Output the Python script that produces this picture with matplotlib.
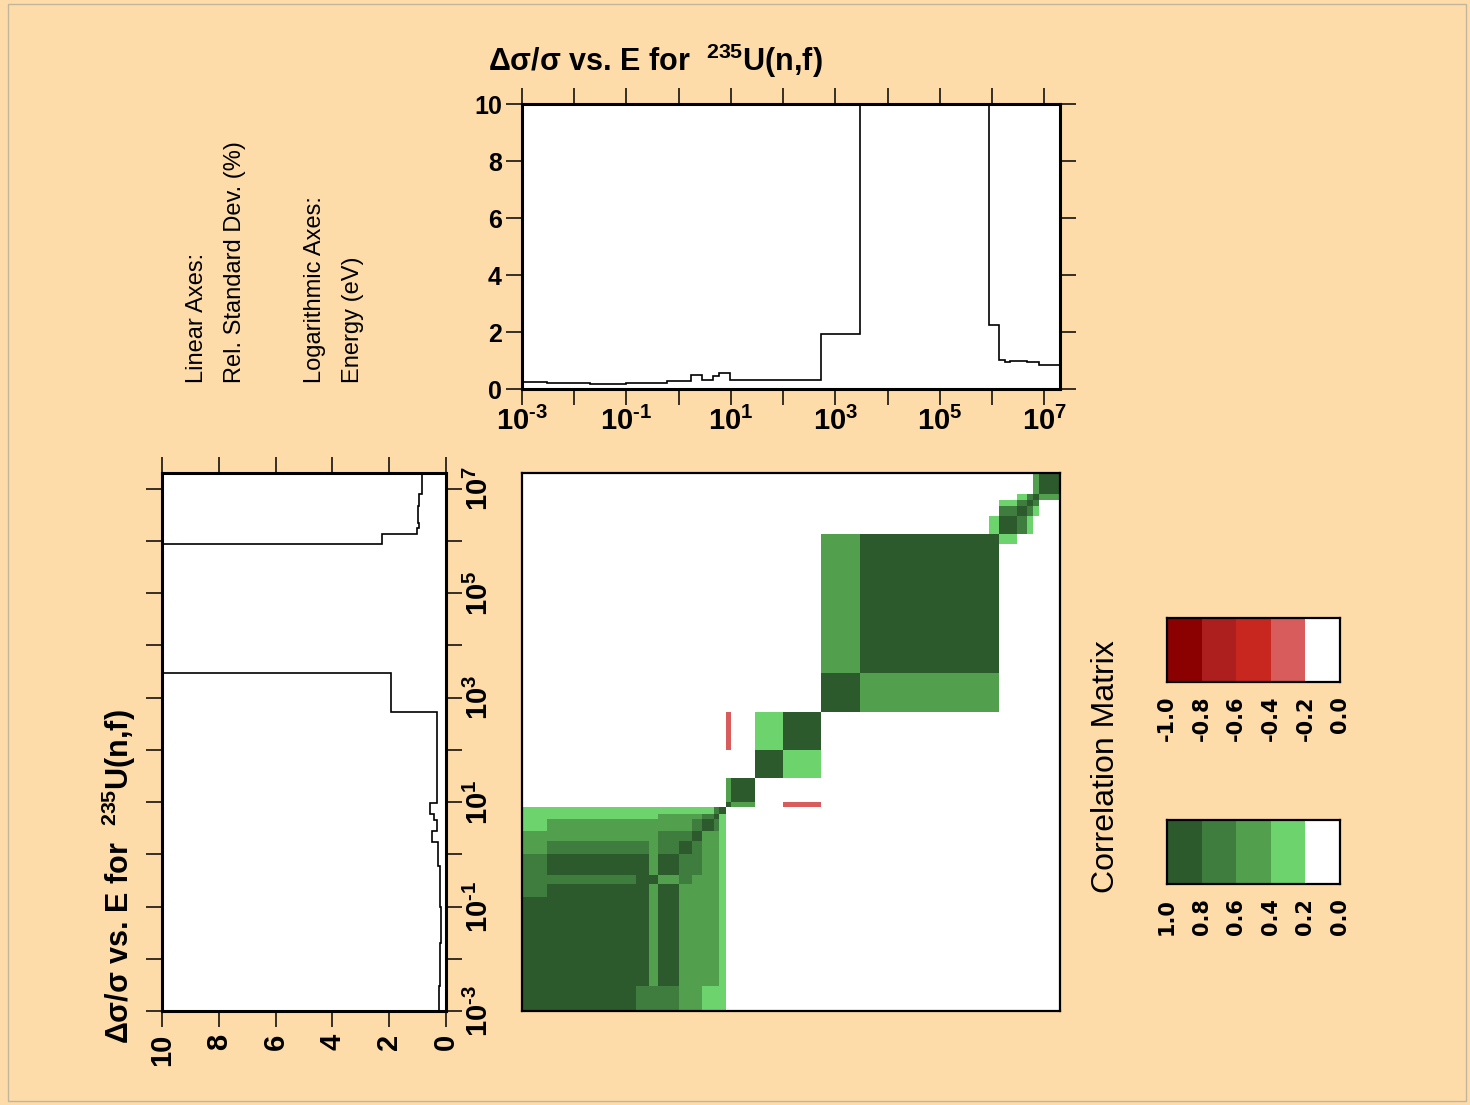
import numpy as np
import matplotlib
matplotlib.use("Agg")
import matplotlib.pyplot as plt
from matplotlib.colors import ListedColormap, BoundaryNorm
from matplotlib.ticker import NullLocator
from matplotlib.patches import Rectangle

# ---------------- data ----------------
# relative standard deviation (%) per energy group (eV)
unc_edges = [1e-3, 3e-3, 0.02, 0.1, 0.3, 0.6, 1.75, 2.8, 4.6, 5.9, 9.6, 520.0,
             2950.0, 8.6e5, 1.34e6, 1.8e6, 2.2e6, 2.6e6, 4.6e6, 7.8e6, 2e7]
unc_values = [0.23, 0.21, 0.19, 0.20, 0.22, 0.27, 0.49, 0.33, 0.44, 0.56, 0.30,
              1.94, 12.0, 2.25, 1.02, 0.95, 1.00, 1.00, 0.95, 0.84]

# correlation matrix groups (eV)
corr_edges = [1e-3, 3e-3, 0.026, 0.15, 0.27, 0.4, 1.0, 1.8, 2.8, 4.7, 5.9, 8.0,
              10.0, 29.0, 100.0, 520.0, 2.9e3, 8.6e5, 1.35e6, 3.0e6, 4.6e6,
              6.0e6, 7.8e6, 2.0e7]
corr_levels = {"D": 0.9, "M": 0.7, "L": 0.5, "S": 0.3, "N": -0.3, "0": 0.0}
corr_rows = [
    "DDDMMMLLSSS" + "000000000000",
    "DDDDLDLLLLS" + "000000000000",
    "DDDDLDLLLLS" + "000000000000",
    "MDDDLDLLLLS" + "000000000000",
    "MMMDDLMLLLS" + "000000000000",
    "MDDDLDMMLLS" + "000000000000",
    "LMMMLMDMLLS" + "000000000000",
    "LLLLLMMDLLS" + "000000000000",
    "SLLLLLLMDMS" + "000000000000",
    "SSSSSLLLMDS" + "000000000000",
    "SSSSSSSSSMD" + "000000000000",
    "00000000000" + "DL0N00000000",
    "00000000000" + "LD0000000000",
    "00000000000" + "00DS00000000",
    "00000000000" + "N0SD00000000",
    "00000000000" + "0000DLL00000",
    "00000000000" + "0000LDD00000",
    "00000000000" + "0000LDDS0000",
    "00000000000" + "000000SDMS00",
    "00000000000" + "0000000MDMS0",
    "00000000000" + "0000000SMDM0",
    "00000000000" + "00000000SMDL",
    "00000000000" + "0000000000LD",
]

red_bounds = [-1.0, -0.8, -0.6, -0.4, -0.2, 0.0]
red_labels = ["-1.0", "-0.8", "-0.6", "-0.4", "-0.2", "0.0"]
green_bounds = [0.0, 0.2, 0.4, 0.6, 0.8, 1.0]
green_labels = ["0.0", "0.2", "0.4", "0.6", "0.8", "1.0"]
red_colors = ["#8b0000", "#ad1f1f", "#c8271f", "#d95c5c", "#ffffff"]
green_colors = ["#ffffff", "#6dd36d", "#52a04e", "#3e7d3e", "#2d5a2d"]

energy_exps = list(range(-3, 8))
rsd_ticks = [0, 2, 4, 6, 8, 10]

title_text = "Δσ/σ vs. E for  $^{235}$U(n,f)"

# ---------------- style ----------------
plt.rcParams["font.family"] = ["Liberation Sans", "DejaVu Sans"]
plt.rcParams["font.weight"] = "bold"
plt.rcParams["mathtext.fontset"] = "custom"
plt.rcParams["mathtext.rm"] = "Liberation Sans:bold"
plt.rcParams["mathtext.it"] = "Liberation Sans:bold"
plt.rcParams["mathtext.bf"] = "Liberation Sans:bold"

BG = "#FDDCAA"
W, H = 1470, 1105
fig = plt.figure(figsize=(W / 100, H / 100), dpi=100)
fig.patch.set_facecolor(BG)


def rect(l, t, r, b):
    return [l / W, 1 - b / H, (r - l) / W, (b - t) / H]


def exp_label(k):
    s = str(abs(k))
    if k < 0:
        s = "\u2010" + s
    return rf"$10^{{{s}}}$"


energy_ticks = [10.0 ** k for k in energy_exps]
energy_labels = [exp_label(k) if k % 2 else "" for k in energy_exps]
rsd_labels = [str(v) for v in rsd_ticks]

TL = 11.5   # tick length
TW = 1.1    # tick width
SW = 2.2    # spine width

# ---------------- top panel ----------------
ax_top = fig.add_axes(rect(522, 104, 1060, 389))
ax_top.set_xscale("log")
ax_top.stairs(unc_values, unc_edges, baseline=None, color="black", lw=1.2)
ax_top.set_xlim(1e-3, 2e7)
ax_top.set_ylim(0, 10)
ax_top.xaxis.set_minor_locator(NullLocator())
ax_top.set_xticks(energy_ticks, energy_labels)
ax_top.set_yticks(rsd_ticks, rsd_labels)
ax_top.tick_params(axis="both", which="major", direction="out", length=TL,
                   width=TW, top=True, right=True)
ax_top.tick_params(axis="x", labelsize=21, pad=1.5)
ax_top.tick_params(axis="y", labelsize=18, pad=3.0)
for s in ax_top.spines.values():
    s.set_linewidth(SW)

# ---------------- left panel ----------------
ax_left = fig.add_axes(rect(162, 473, 446, 1011))
ax_left.set_yscale("log")
ax_left.stairs(unc_values, unc_edges, orientation="horizontal", baseline=None,
               color="black", lw=1.2)
ax_left.set_ylim(1e-3, 2e7)
ax_left.set_xlim(10, 0)
ax_left.yaxis.set_minor_locator(NullLocator())
ax_left.set_yticks(energy_ticks, energy_labels, rotation=90, va="center")
ax_left.set_xticks(rsd_ticks, rsd_labels, rotation=90)
ax_left.tick_params(axis="both", which="major", direction="out", length=TL,
                    width=TW, top=True, bottom=True, left=True, right=True)
ax_left.tick_params(axis="y", labelleft=False, labelright=True, labelsize=21, pad=2)
ax_left.tick_params(axis="x", labelsize=21, pad=5)
for s in ax_left.spines.values():
    s.set_linewidth(SW)

# ---------------- correlation matrix ----------------
cmap = ListedColormap(red_colors + green_colors)
norm = BoundaryNorm(red_bounds + green_bounds[1:], cmap.N)
corr = np.array([[corr_levels[c] for c in row] for row in corr_rows])

ax_m = fig.add_axes(rect(522, 473, 1060, 1011))
ax_m.set_xscale("log")
ax_m.set_yscale("log")
ax_m.pcolormesh(corr_edges, corr_edges, corr, cmap=cmap, norm=norm,
                shading="flat", antialiased=False, linewidth=0)
ax_m.set_xlim(1e-3, 2e7)
ax_m.set_ylim(1e-3, 2e7)
for axis in (ax_m.xaxis, ax_m.yaxis):
    axis.set_major_locator(NullLocator())
    axis.set_minor_locator(NullLocator())
for s in ax_m.spines.values():
    s.set_linewidth(1.6)

# ---------------- colour bars ----------------
def colorbar_axes(r, bounds, labels, reverse):
    ax = fig.add_axes(r)
    mids = [(a + b) / 2 for a, b in zip(bounds[:-1], bounds[1:])]
    ax.pcolormesh(bounds, [0, 1], [mids], cmap=cmap, norm=norm,
                  shading="flat", antialiased=False, linewidth=0)
    if reverse:
        ax.set_xlim(bounds[-1], bounds[0])
    else:
        ax.set_xlim(bounds[0], bounds[-1])
    ax.set_ylim(0, 1)
    ax.set_yticks([])
    ax.set_xticks(bounds, labels, rotation=90, fontfamily="DejaVu Sans",
                  fontweight="bold", fontsize=15)
    ax.tick_params(axis="x", length=0, pad=10)
    for s in ax.spines.values():
        s.set_linewidth(1.6)
    return ax


colorbar_axes(rect(1167, 618, 1340, 682), red_bounds, red_labels, False)
colorbar_axes(rect(1167, 820, 1340, 884), green_bounds, green_labels, True)

# ---------------- texts ----------------
fig.text(655 / W, 1 - 61 / H, title_text, ha="center", va="center",
         fontweight="bold", fontsize=22)
fig.text(119 / W, 1 - 877 / H, title_text, ha="center", va="center",
         rotation=90, fontweight="bold", fontsize=22)

for x, s in [(197, "Linear Axes:"), (235, "Rel. Standard Dev. (%)"),
             (315, "Logarithmic Axes:"), (353, "Energy (eV)")]:
    fig.text(x / W, 1 - 383 / H, s, rotation=90, ha="center", va="bottom",
             fontsize=17, fontweight="normal")

fig.text(1106 / W, 1 - 767 / H, "Correlation Matrix", rotation=90,
         ha="center", va="center", fontsize=23, fontweight="normal")

# figure frame
fig.patches.append(Rectangle((8 / W, 1 - 1101 / H), (1466 - 8) / W,
                             (1101 - 4) / H, transform=fig.transFigure,
                             fill=False, edgecolor="#c2b59b", linewidth=1))

fig.savefig("out.png", dpi=100, facecolor=BG)
